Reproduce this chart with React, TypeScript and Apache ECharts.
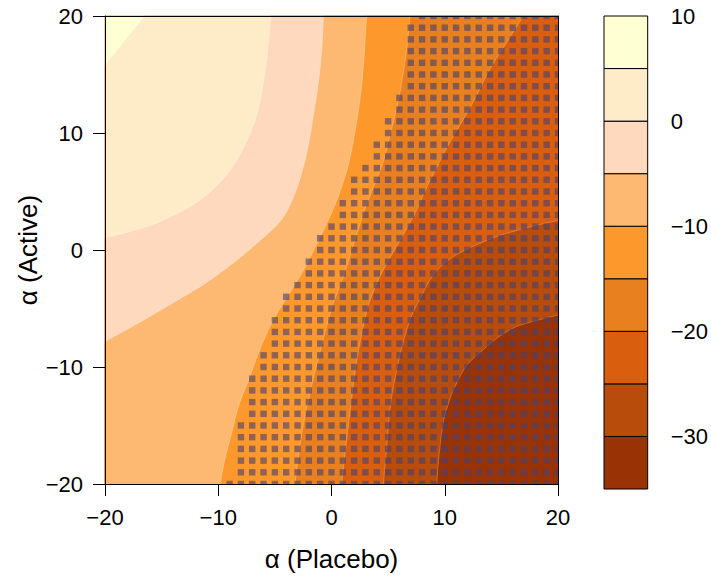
import React, { useEffect, useRef } from "react";
import * as echarts from "echarts";

const FONT = '"Liberation Sans", Arial, Helvetica, sans-serif';

// Panel limits and axis ticks
const xLimits = [-20, 20];
const yLimits = [-20, 20];
const axisStep = 10;

// Contour levels (bottom to top) and the fill of each band between them
const levels = [-35, -30, -25, -20, -15, -10, -5, 0, 5, 10];
const bandColors = [
  "#993305",
  "#B84C0B",
  "#D95F0E",
  "#E8801F",
  "#FD982C",
  "#FDB872",
  "#FED9BD",
  "#FEECC9",
  "#FFFFD4",
];
const colorbarTicks = [10, 0, -10, -20, -30];

const isoM30 = [
  [9.29, -20], [9.5, -17.5], [9.87, -14.7], [10.3, -13.2], [10.8, -11.9],
  [11.9, -9.92], [13.4, -8.52], [14.8, -7.4], [16.35, -6.54], [18.2, -6.0], [20, -5.56],
];
const isoM25 = [
  [4.58, -20], [4.9, -16.5], [5.2, -13.3], [5.7, -10.5], [6.3, -8.0], [7.0, -5.8],
  [7.9, -4.0], [9.0, -2.1], [10.4, -0.8], [11.8, 0.0], [13.3, 0.65], [14.9, 1.25],
  [17.5, 1.97], [20, 2.53],
];
const isoM20 = [
  [0.9, -20], [1.3, -16.5], [1.7, -13.3], [2.15, -9.9], [2.7, -7.0], [3.3, -4.6],
  [4.2, -2.4], [5.2, -0.6], [6.1, 0.9], [6.9, 2.3], [7.6, 3.6], [8.4, 5.35],
  [9.29, 7.04], [10.17, 8.73], [11.35, 10.7], [12.52, 12.67], [14.0, 15.49],
  [15.47, 17.75], [16.94, 20],
];
const isoM15 = [
  [-3.22, -20], [-2.95, -17.8], [-2.5, -15], [-1.75, -11.6], [-1.2, -9.4],
  [-0.7, -7.5], [0.1, -4.7], [1.0, -2.4], [1.95, 0.5], [2.81, 3.1], [3.69, 5.35],
  [4.58, 7.6], [5.17, 9.86], [5.75, 12.1], [6.2, 14.36], [6.64, 17.18], [6.93, 20],
];
const isoM10 = [
  [-9.85, -20], [-9.4, -17.8], [-8.8, -15.56], [-8.2, -13.3], [-7.3, -11.05],
  [-6.45, -8.8], [-5.3, -6.26], [-4.1, -4.29], [-2.65, -2.03], [-1.46, 0.22],
  [-0.57, 1.97], [0.1, 3.4], [0.75, 5.0], [1.49, 7.32], [2.07, 10.14],
  [2.52, 12.96], [2.81, 15.77], [3.1, 20],
];
const isoM5 = [
  [-20, -7.8], [-17.1, -6.26], [-14.1, -4.57], [-11.2, -2.88], [-8.8, -1.2],
  [-7.1, 0.15], [-5.5, 1.5], [-4.3, 2.75], [-3.4, 4.45], [-2.7, 6.4],
  [-2.1, 8.73], [-1.6, 11.55], [-1.16, 14.36], [-0.87, 17.18], [-0.72, 20],
];
const isoZero = [
  [-20, 1.07], [-18.5, 1.4], [-15.6, 2.25], [-12.6, 3.66], [-10.6, 5.07],
  [-8.8, 7.04], [-7.5, 9.3], [-6.6, 11.55], [-6.0, 14.4], [-5.6, 17.5], [-5.37, 20],
];
const isoP5 = [
  [-20, 15.8], [-19.1, 16.9], [-18.2, 18.0], [-17.35, 19.0], [-16.5, 20],
];
// isolines[k] belongs to levels[k + 1]
const isolines = [isoM30, isoM25, isoM20, isoM15, isoM10, isoM5, isoZero, isoP5];

// Stippled grid points: on each row (y = 20 down to -20) every integer x from
// the listed start up to 20 is marked
const stippleStart = [
  8, 7, 7, 7, 7, 7, 7, 6, 6, 5, 5, 4, 4, 3, 2, 2, 1, 1, 0, -1, -1,
  -2, -2, -3, -4, -4, -5, -5, -5, -6, -6, -7, -7, -7, -7, -8, -8, -8, -8, -8, -9,
];

const minus = (v: number) => (v < 0 ? "\u2212" + Math.abs(v) : String(v));

const clamp = (v: number, lo: number, hi: number) => Math.min(hi, Math.max(lo, v));

// Catmull-Rom curve through the traced points so the isolines render smoothly
function smoothCurve(pts: number[][], steps = 8) {
  const out: number[][] = [];
  const n = pts.length;
  for (let i = 0; i < n - 1; i++) {
    const p0 = pts[Math.max(i - 1, 0)];
    const p1 = pts[i];
    const p2 = pts[i + 1];
    const p3 = pts[Math.min(i + 2, n - 1)];
    for (let s = 0; s < steps; s++) {
      const t = s / steps;
      const t2 = t * t;
      const t3 = t2 * t;
      const q = [0, 1].map(
        (k) =>
          0.5 *
          (2 * p1[k] +
            (-p0[k] + p2[k]) * t +
            (2 * p0[k] - 5 * p1[k] + 4 * p2[k] - p3[k]) * t2 +
            (-p0[k] + 3 * p1[k] - 3 * p2[k] + p3[k]) * t3)
      );
      out.push([clamp(q[0], xLimits[0], xLimits[1]), clamp(q[1], yLimits[0], yLimits[1])]);
    }
  }
  out.push(pts[n - 1]);
  return out;
}

// Walk the panel border counter-clockwise to close the region above an isoline
const W = xLimits[1] - xLimits[0];
const H = yLimits[1] - yLimits[0];
const PER = 2 * (W + H);
const eps = 1e-6;
function perimeterPos(p: number[]) {
  const [x, y] = p;
  if (Math.abs(y - yLimits[0]) < eps) return x - xLimits[0];
  if (Math.abs(x - xLimits[1]) < eps) return W + (y - yLimits[0]);
  if (Math.abs(y - yLimits[1]) < eps) return W + H + (xLimits[1] - x);
  return 2 * W + H + (yLimits[1] - y);
}
const corners = [
  { t: W, p: [xLimits[1], yLimits[0]] },
  { t: W + H, p: [xLimits[1], yLimits[1]] },
  { t: 2 * W + H, p: [xLimits[0], yLimits[1]] },
  { t: 0, p: [xLimits[0], yLimits[0]] },
];
function regionAbove(line: number[][]) {
  const tS = perimeterPos(line[0]);
  const tE = perimeterPos(line[line.length - 1]);
  const span = (tS - tE + PER) % PER;
  const cs = corners
    .map((c) => ({ d: (c.t - tE + PER) % PER, p: c.p }))
    .filter((c) => c.d > 0 && c.d < span)
    .sort((a, b) => a.d - b.d)
    .map((c) => c.p);
  return line.concat(cs);
}
const fullPanel = [
  [xLimits[0], yLimits[0]],
  [xLimits[1], yLimits[0]],
  [xLimits[1], yLimits[1]],
  [xLimits[0], yLimits[1]],
];

export default function App() {
  const ref = useRef<HTMLDivElement>(null);

  useEffect(() => {
    if (!ref.current) return;
    const chart = echarts.init(ref.current, null, { renderer: "svg" });

    const curves = isolines.map((line) => smoothCurve(line));

    const stipplePoints: number[][] = [];
    stippleStart.forEach((start, i) => {
      const y = yLimits[1] - i;
      for (let x = start; x <= xLimits[1]; x++) stipplePoints.push([x, y]);
    });

    const tickLabel = {
      color: "#000",
      fontFamily: FONT,
      fontSize: 22,
      formatter: minus,
    };
    const boxAxis = {
      type: "value",
      gridIndex: 0,
      min: xLimits[0],
      max: xLimits[1],
      z: 10,
      axisLine: { show: true, onZero: false, lineStyle: { color: "#000", width: 1 } },
      axisTick: { show: false },
      axisLabel: { show: false },
      splitLine: { show: false },
    };

    chart.setOption({
      animation: false,
      textStyle: { fontFamily: FONT },
      grid: [
        { left: 105, right: 153, top: 16, bottom: 88 },
        { left: 604, right: 62, top: 16, bottom: 88 },
      ],
      xAxis: [
        {
          type: "value",
          gridIndex: 0,
          position: "bottom",
          min: xLimits[0],
          max: xLimits[1],
          interval: axisStep,
          z: 10,
          axisLine: { show: true, onZero: false, lineStyle: { color: "#000", width: 1 } },
          axisTick: { show: true, length: 12, lineStyle: { color: "#000", width: 1 } },
          axisLabel: { ...tickLabel, margin: 22 },
          splitLine: { show: false },
          name: "\u03b1 (Placebo)",
          nameLocation: "middle",
          nameGap: 62,
          nameMoveOverlap: false,
          nameTextStyle: { color: "#000", fontFamily: FONT, fontSize: 26 },
        },
        { ...boxAxis, position: "top" },
        { type: "value", gridIndex: 1, min: 0, max: 1, show: false },
      ],
      yAxis: [
        {
          type: "value",
          gridIndex: 0,
          position: "left",
          min: yLimits[0],
          max: yLimits[1],
          interval: axisStep,
          z: 10,
          axisLine: { show: true, onZero: false, lineStyle: { color: "#000", width: 1 } },
          axisTick: { show: true, length: 12, lineStyle: { color: "#000", width: 1 } },
          axisLabel: { ...tickLabel, margin: 22 },
          splitLine: { show: false },
          name: "\u03b1 (Active)",
          nameLocation: "middle",
          nameRotate: 90,
          nameGap: 64,
          nameMoveOverlap: false,
          nameTextStyle: { color: "#000", fontFamily: FONT, fontSize: 26 },
        },
        { ...boxAxis, min: yLimits[0], max: yLimits[1], position: "right" },
        {
          type: "value",
          gridIndex: 1,
          position: "right",
          min: levels[0],
          max: levels[levels.length - 1],
          interval: 5,
          axisLine: { show: false },
          axisTick: {
            show: true,
            length: 12,
            customValues: colorbarTicks,
            lineStyle: { color: "#000", width: 1 },
          },
          axisLabel: { ...tickLabel, margin: 23, customValues: colorbarTicks },
          splitLine: { show: false },
        },
      ],
      series: [
        {
          type: "custom",
          name: "bands",
          xAxisIndex: 0,
          yAxisIndex: 0,
          silent: true,
          data: bandColors.map((_, i) => [i]),
          encode: { x: 0 },
          renderItem: (_params: any, api: any) => {
            const i = api.value(0);
            const poly = i === 0 ? fullPanel : regionAbove(curves[i - 1]);
            const children: any[] = [
              {
                type: "polygon",
                shape: { points: poly.map((p) => api.coord(p)) },
                style: { fill: bandColors[i], stroke: bandColors[i], lineWidth: 0.5 },
              },
            ];
            if (i > 0) {
              children.push({
                type: "polyline",
                shape: { points: curves[i - 1].map((p) => api.coord(p)) },
                style: { fill: null, stroke: "rgba(255,255,255,0.3)", lineWidth: 0.7 },
              });
            }
            return { type: "group", children };
          },
        },
        {
          type: "custom",
          name: "stipple",
          xAxisIndex: 0,
          yAxisIndex: 0,
          silent: true,
          data: stipplePoints,
          renderItem: (params: any, api: any) => {
            const c = api.coord([api.value(0), api.value(1)]);
            const half = 3.2;
            const cs = params.coordSys;
            const rect = echarts.graphic.clipRectByRect(
              { x: c[0] - half, y: c[1] - half, width: 2 * half, height: 2 * half },
              { x: cs.x, y: cs.y, width: cs.width, height: cs.height }
            );
            if (!rect) return null;
            return {
              type: "rect",
              shape: rect,
              style: { fill: "rgba(75,65,110,0.62)" },
            };
          },
        },
        {
          type: "custom",
          name: "colorbar",
          xAxisIndex: 2,
          yAxisIndex: 2,
          silent: true,
          data: bandColors.map((_, i) => [0, levels[i], levels[i + 1], i]),
          encode: { x: 0, y: 1 },
          renderItem: (_params: any, api: any) => {
            const lo = api.value(1);
            const hi = api.value(2);
            const i = api.value(3);
            const p1 = api.coord([0, hi]);
            const p2 = api.coord([1, lo]);
            return {
              type: "rect",
              shape: { x: p1[0], y: p1[1], width: p2[0] - p1[0], height: p2[1] - p1[1] },
              style: { fill: bandColors[i], stroke: "#000", lineWidth: 1 },
            };
          },
        },
      ],
    });

    return () => chart.dispose();
  }, []);

  return (
    <div
      ref={ref}
      style={{ position: "fixed", left: 0, top: 0, width: 711, height: 577, background: "#fff" }}
    />
  );
}
